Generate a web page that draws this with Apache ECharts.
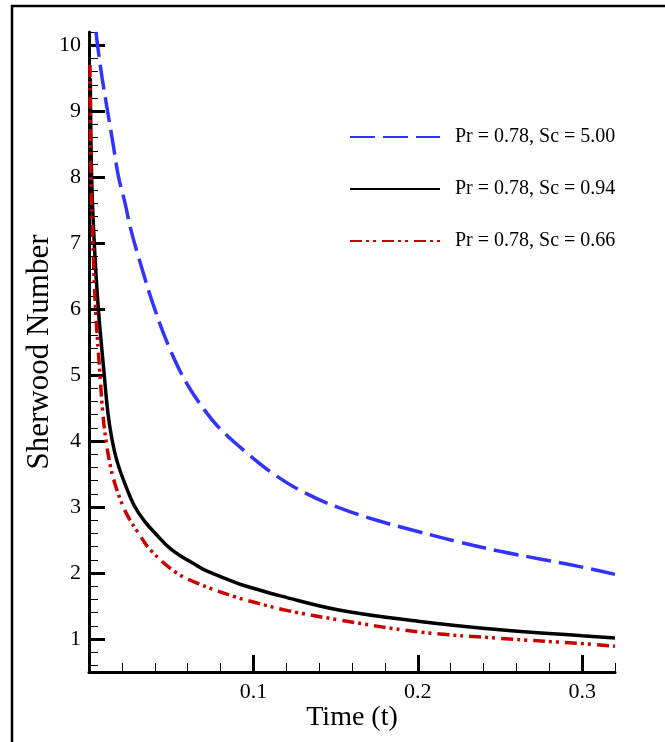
<!DOCTYPE html>
<html>
<head>
<meta charset="utf-8">
<script src="https://cdn.jsdelivr.net/npm/echarts@6/dist/echarts.min.js"></script>
<style>
  html, body { margin: 0; padding: 0; background: #fff; }
  #chart { width: 665px; height: 742px; }
</style>
</head>
<body>
<div id="chart"></div>
<script>
// Time (t) vs Sherwood number
const seriesNames = ['Pr = 0.78, Sc = 5.00', 'Pr = 0.78, Sc = 0.94', 'Pr = 0.78, Sc = 0.66']

const sc500 = [
  [0.0043, 10.2], [0.0052, 10.0], [0.008, 9.5], [0.0113, 9.0], [0.015, 8.45], [0.018, 8.0],
  [0.022, 7.6], [0.025, 7.25], [0.030, 6.8], [0.040, 6.0], [0.050, 5.35], [0.060, 4.85],
  [0.070, 4.48], [0.080, 4.18], [0.097, 3.80], [0.113, 3.49], [0.131, 3.22], [0.152, 2.99],
  [0.175, 2.80], [0.200, 2.63], [0.225, 2.47], [0.250, 2.33], [0.275, 2.21], [0.300, 2.09],
  [0.320, 1.98]
]
const sc094 = [
  [0.0008, 9.5], [0.0016, 8.0], [0.0032, 7.0], [0.0057, 6.0], [0.0093, 5.0], [0.0114, 4.45],
  [0.0138, 4.05], [0.017, 3.7], [0.0219, 3.35], [0.028, 3.0], [0.034, 2.78], [0.040, 2.61],
  [0.050, 2.36], [0.0665, 2.10], [0.0726, 2.02], [0.0908, 1.84], [0.100, 1.77], [0.117, 1.65],
  [0.152, 1.44], [0.200, 1.27], [0.250, 1.14], [0.300, 1.05], [0.320, 1.015]
]
const sc066 = [
  [0.0006, 9.7], [0.0012, 8.0], [0.0024, 7.0], [0.0040, 6.0], [0.0067, 5.0], [0.0083, 4.45],
  [0.0101, 4.05], [0.0128, 3.65], [0.0158, 3.35], [0.0209, 3.0], [0.025, 2.8], [0.030, 2.61],
  [0.037, 2.36], [0.0523, 2.02], [0.0665, 1.84], [0.0888, 1.64], [0.100, 1.56], [0.121, 1.43],
  [0.152, 1.29], [0.200, 1.11], [0.250, 1.01], [0.300, 0.93], [0.320, 0.89]
]

const xTicks = [0.1, 0.2, 0.3]
const xTickLabels = ['0.1', '0.2', '0.3']
const yTicks = [1, 2, 3, 4, 5, 6, 7, 8, 9, 10]
const yTickLabels = ['1', '2', '3', '4', '5', '6', '7', '8', '9', '10']

// minor ticks every 0.02 on x and 0.2 on y
const xMinor = []
for (let i = 1; i <= 16; i++) if (i % 5 !== 0) xMinor.push(+(i * 0.02).toFixed(2))
const yMinor = []
for (let i = 3; i <= 51; i++) if (i % 5 !== 0) yMinor.push(+(i * 0.2).toFixed(1))

const font = 'Liberation Serif, Times New Roman, serif'

const chart = echarts.init(document.getElementById('chart'))

const baseX = {
  type: 'value', min: 0, max: 0.32, position: 'bottom',
  splitLine: { show: false }
}
const baseY = {
  type: 'value', min: 0.5, max: 10.2, position: 'left',
  splitLine: { show: false }
}

chart.setOption({
  backgroundColor: '#fff',
  animation: false,
  graphic: [{
    type: 'rect',
    shape: { x: 12, y: 6, width: 800, height: 900 },
    style: { fill: 'none', stroke: '#000', lineWidth: 2.5 }
  }],
  grid: { left: 89, right: 50, top: 32, bottom: 70, containLabel: false },
  legend: {
    orient: 'vertical',
    left: 344,
    top: 122,
    itemWidth: 90,
    itemHeight: 20,
    itemGap: 32,
    itemStyle: { opacity: 0 },
    textStyle: { fontFamily: font, fontSize: 20, color: '#000', lineHeight: 20, padding: [0, 0, 0, 10] },
    data: seriesNames
  },
  xAxis: [
    Object.assign({}, baseX, {
      name: 'Time (t)',
      nameLocation: 'middle',
      nameGap: 32,
      nameMoveOverlap: false,
      nameTextStyle: { fontFamily: font, fontSize: 28, color: '#000' },
      axisLine: { lineStyle: { color: '#000', width: 3 } },
      axisTick: { inside: true, length: 17, lineStyle: { color: '#000', width: 3 }, customValues: xTicks },
      axisLabel: {
        customValues: xTicks, margin: 9,
        fontFamily: font, fontSize: 22, color: '#000',
        formatter: v => xTickLabels[xTicks.indexOf(v)] || ''
      }
    }),
    Object.assign({}, baseX, {
      axisLine: { show: false },
      axisTick: { inside: true, length: 9, lineStyle: { color: '#000', width: 1 }, customValues: xMinor },
      axisLabel: { show: false }
    })
  ],
  yAxis: [
    Object.assign({}, baseY, {
      name: 'Sherwood Number',
      nameLocation: 'middle',
      nameGap: 34,
      nameMoveOverlap: false,
      nameTextStyle: { fontFamily: font, fontSize: 31, color: '#000' },
      axisLine: { lineStyle: { color: '#000', width: 3 } },
      axisTick: { inside: true, length: 16, lineStyle: { color: '#000', width: 3 }, customValues: yTicks },
      axisLabel: {
        customValues: yTicks, margin: 8,
        fontFamily: font, fontSize: 22, color: '#000',
        formatter: v => yTickLabels[yTicks.indexOf(v)] || ''
      }
    }),
    Object.assign({}, baseY, {
      axisLine: { show: false },
      axisTick: { inside: true, length: 9, lineStyle: { color: '#000', width: 1 }, customValues: yMinor },
      axisLabel: { show: false }
    })
  ],
  series: [
    {
      name: seriesNames[0], type: 'line', data: sc500,
      showSymbol: false, symbol: 'none', smooth: 0.4,
      lineStyle: { color: '#3333ff', width: 3.5, type: [25, 8] },
      itemStyle: { color: '#3333ff' }
    },
    {
      name: seriesNames[1], type: 'line', data: sc094,
      showSymbol: false, symbol: 'none', smooth: 0.4,
      lineStyle: { color: '#000', width: 3.5, type: 'solid' },
      itemStyle: { color: '#000' }
    },
    {
      name: seriesNames[2], type: 'line', data: sc066,
      showSymbol: false, symbol: 'none', smooth: 0.4,
      lineStyle: { color: '#cc0000', width: 3.5, type: [12, 4, 3, 4, 3, 6] },
      itemStyle: { color: '#cc0000' }
    }
  ]
})
</script>
</body>
</html>
